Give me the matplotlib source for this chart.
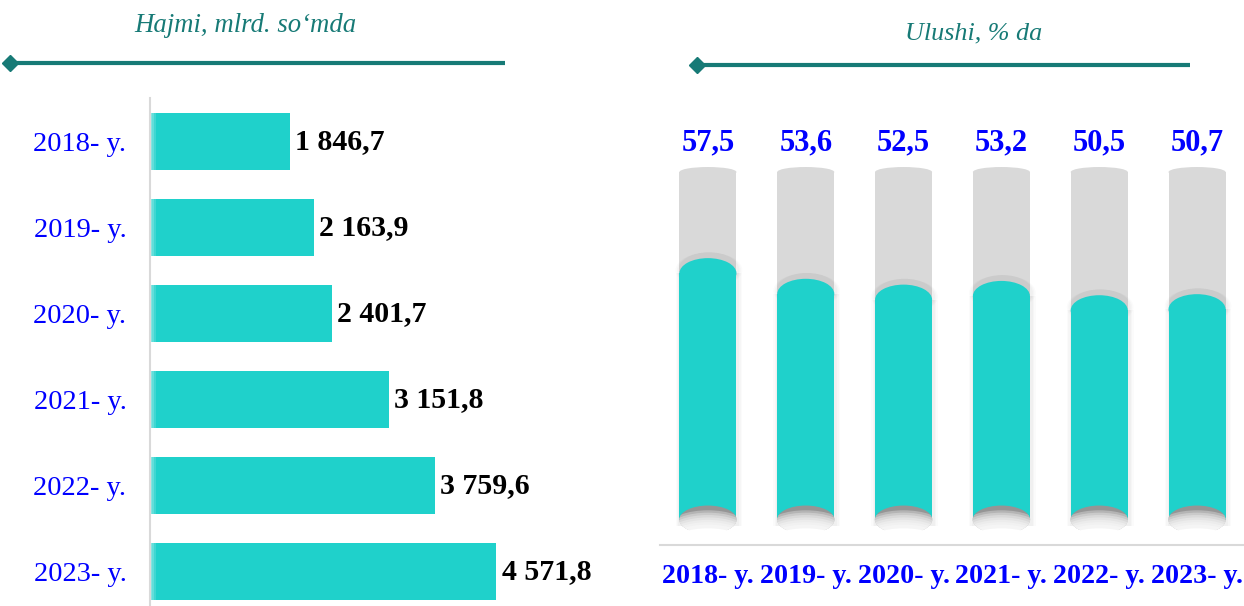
import numpy as np
import matplotlib.pyplot as plt
from matplotlib.patches import Ellipse, Rectangle
from matplotlib.lines import Line2D

# data
years = ['2018- y.', '2019- y.', '2020- y.', '2021- y.', '2022- y.', '2023- y.']
volume = [1846.7, 2163.9, 2401.7, 3151.8, 3759.6, 4571.8]   # mlrd. so'm
share = [57.5, 53.6, 52.5, 53.2, 50.5, 50.7]                # %

TEAL = '#1FD1CB'
DARK = '#177A76'
BLUE = '#0000FF'
GRAY = '#D9D9D9'
W, H = 1244, 606

plt.rcParams['font.family'] = ['Liberation Serif', 'DejaVu Serif']

fig = plt.figure(figsize=(W / 100, H / 100), dpi=100)


def px(x, y):
    # pixel position -> figure fraction
    return x / W, 1 - y / H


def fmt(v):
    return f'{v:,.1f}'.replace(',', ' ').replace('.', ',')


# headers with diamond-ended rules
for text, size, tx, ty, x0, x1, ly in [
        ('Hajmi, mlrd. so‘mda', 19.3, 245, 25, 10, 505, 63),
        ('Ulushi, % da', 18.8, 974, 33, 697, 1190, 65)]:
    fig.text(*px(tx, ty), text, ha='center', va='center', style='italic',
             fontsize=size, color=DARK)
    (a, b), (c, d) = px(x0, ly), px(x1, ly)
    fig.add_artist(Line2D([a, c], [b, d], transform=fig.transFigure,
                          color=DARK, lw=3, solid_capstyle='butt'))
    fig.add_artist(Line2D([a], [b], transform=fig.transFigure, color=DARK,
                          marker='D', markersize=8, lw=0))

# ---- left: horizontal bars
axl = fig.add_axes([150 / W, 0, 410 / W, 508 / H])
pos = range(len(years))
axl.barh(pos, volume, height=0.66, color=TEAL, left=0)
# faint light strip on the left edge of each bar
for k, al in enumerate([0.45, 0.3, 0.15]):
    axl.barh(pos, [25] * len(volume), height=0.66, left=k * 25, color='white',
             alpha=al, lw=0)
axl.set_xlim(0, 410 / 0.07568)
axl.set_ylim(5.401, -0.506)
axl.set_yticks(list(pos))
axl.set_yticklabels(years, fontsize=20.5, color=BLUE)
axl.tick_params(axis='y', length=0, pad=17)
axl.set_xticks([])
for s in ['top', 'right', 'bottom']:
    axl.spines[s].set_visible(False)
axl.spines['left'].set_color(GRAY)
axl.spines['left'].set_linewidth(1.5)
for i, v in enumerate(volume):
    axl.annotate(fmt(v), (v, i), xytext=(4, 0), textcoords='offset points',
                 va='center', ha='left', fontsize=21.5, fontweight='bold',
                 color='black')

# ---- right: cylinder columns
axr = fig.add_axes([660 / W, (H - 545) / H, 584 / W, 445 / H])
BASE, TRACK = 11, 76.6
bw = 0.583
cap = 5.7
axr.set_xlim(-0.49, 5.48)
axr.set_ylim(6.2, 90.2)

axr.bar(pos, [TRACK - BASE] * len(share), bottom=BASE, width=bw, color=GRAY,
        zorder=1)
for i, v in enumerate(share):
    axr.add_patch(Ellipse((i, TRACK), bw, 1.9, color=GRAY, lw=0, zorder=1))
    # soft shadow round the fill
    for e, al in [(0.05, 0.015), (0.035, 0.02), (0.02, 0.025)]:
        axr.add_patch(Rectangle((i - bw / 2 - e + 0.01, BASE - 1.2),
                                bw + 2 * e, v - BASE + 1.2, color='black',
                                alpha=al, lw=0, zorder=2))
        axr.add_patch(Ellipse((i + 0.01, v + 0.6), bw + 2 * e, cap + 1.0,
                              color='black', alpha=al, lw=0, zorder=2))
axr.bar(pos, [v - BASE for v in share], bottom=BASE, width=bw, color=TEAL,
        zorder=3)
for i, v in enumerate(share):
    axr.add_patch(Ellipse((i, v), bw, cap, color=TEAL, lw=0, zorder=3))
    # concave bottom with a fading shadow under it
    hole = Ellipse((i, BASE), bw + 0.004, 5.3, color='#959595', lw=0, zorder=4)
    axr.add_patch(hole)
    for d in np.linspace(0.9, 3.6, 7):
        p = Ellipse((i, BASE - d), bw * 1.3, 5.3, color='white', alpha=0.3,
                    lw=0, zorder=5)
        axr.add_patch(p)
        p.set_clip_path(hole)
    axr.add_patch(Ellipse((i, BASE - 4.3), bw * 1.3, 5.3, color='white',
                          lw=0, zorder=5))
    axr.annotate(fmt(v), (i, TRACK), xytext=(0, 21), textcoords='offset points',
                 ha='center', va='center', fontsize=22, fontweight='bold',
                 color=BLUE)

axr.set_xticks(list(pos))
axr.set_xticklabels(years, fontsize=20.2, fontweight='bold', color=BLUE)
axr.tick_params(axis='x', length=0, pad=14)
axr.set_yticks([])
for s in ['top', 'right', 'left']:
    axr.spines[s].set_visible(False)
axr.spines['bottom'].set_color(GRAY)
axr.spines['bottom'].set_linewidth(1.5)
axr.spines['bottom'].set_zorder(10)

fig.savefig('out.png', dpi=100)
